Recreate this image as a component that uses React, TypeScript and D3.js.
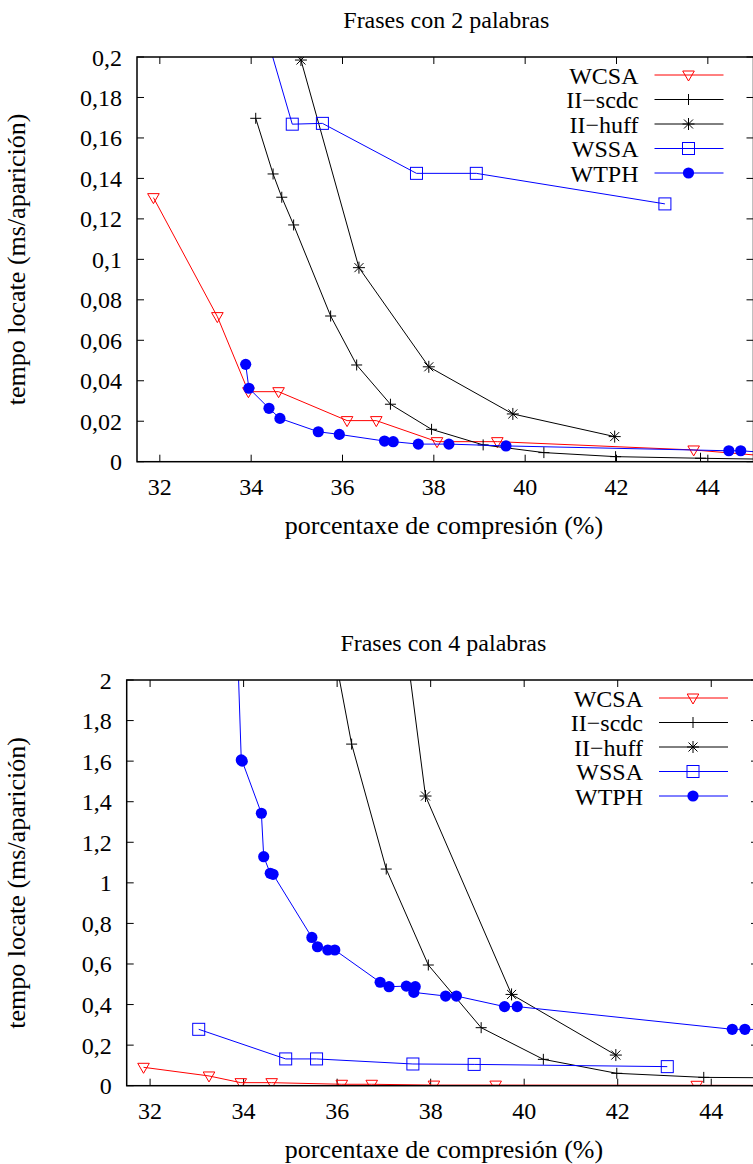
import React from "react";
import * as d3 from "d3";

// ---------- data ----------
const seriesNames = ["WCSA", "II\u2212scdc", "II\u2212huff", "WSSA", "WTPH"];
const seriesColors = ["#ff0000", "#000000", "#000000", "#0000ff", "#0000ff"];
const seriesMarkers = ["tri", "plus", "star", "square", "circle"];

const xTicks = [32, 34, 36, 38, 40, 42, 44];

// WCSA
const wcsaX = [31.86, 33.26, 33.94, 34.6, 36.1, 36.74, 38.07, 39.39, 43.69, 46];
const wcsaY2 = [0.1305, 0.0717, 0.0346, 0.0346, 0.0203, 0.0203, 0.0099, 0.0099, 0.0058, 0.0015];
const wcsaY4 = [0.0907, 0.048, 0.015, 0.015, 0.007, 0.007, 0.003, 0.003, 0.002, 0.001];

// II-scdc
const scdcX = [34.1, 34.48, 34.67, 34.93, 35.74, 36.31, 37.05, 37.95, 39.08, 40.41, 41.98, 43.84, 46];
const scdcY2 = [0.1697, 0.1422, 0.1307, 0.117, 0.072, 0.0478, 0.0284, 0.016, 0.0083, 0.0045, 0.0025, 0.0017, 0.001];
const scdcY4 = [6.0, 5.0, 4.5, 3.9, 2.38, 1.684, 1.068, 0.595, 0.286, 0.13, 0.061, 0.041, 0.038];

// II-huff
const huffX = [35.09, 36.36, 37.89, 39.73, 41.96];
const huffY2 = [0.1985, 0.0959, 0.0469, 0.0236, 0.0124];
const huffY4 = [8.0, 4.16, 1.428, 0.45, 0.151];

// WSSA
const wssaX = [33.04, 34.9, 35.56, 37.62, 38.93, 43.06];
const wssaY2 = [0.311, 0.1668, 0.1672, 0.1425, 0.1425, 0.1274];
const wssaY4 = [0.278, 0.132, 0.132, 0.107, 0.105, 0.094];

// WTPH
const wtphX2 = [33.88, 33.95, 34.39, 34.63, 35.47, 35.93, 36.92, 37.11, 37.66, 38.33, 39.58, 44.46, 44.72, 45.6];
const wtphY2 = [0.0481, 0.0363, 0.0264, 0.0214, 0.0148, 0.0135, 0.0102, 0.0099, 0.0087, 0.0087, 0.0078, 0.0054, 0.0054, 0.004];
const wtphX4 = [33.46, 33.95, 33.97, 34.38, 34.43, 34.57, 34.63, 35.46, 35.58, 35.8, 35.95, 36.92, 37.11, 37.48, 37.67, 37.64, 38.32, 38.55, 39.58, 39.85, 44.45, 44.72, 45.6];
const wtphY4 = [5.0, 1.606, 1.6, 1.343, 1.129, 1.047, 1.042, 0.731, 0.685, 0.669, 0.669, 0.51, 0.488, 0.491, 0.488, 0.46, 0.442, 0.442, 0.39, 0.39, 0.278, 0.278, 0.275];

const panel2 = {
  title: "Frases con 2 palabras",
  yMax: 0.2,
  yStep: 0.02,
  series: [
    [wcsaX, wcsaY2],
    [scdcX, scdcY2],
    [huffX, huffY2],
    [wssaX, wssaY2],
    [wtphX2, wtphY2],
  ],
};
const panel4 = {
  title: "Frases con 4 palabras",
  yMax: 2,
  yStep: 0.2,
  series: [
    [wcsaX, wcsaY4],
    [scdcX, scdcY4],
    [huffX, huffY4],
    [wssaX, wssaY4],
    [wtphX4, wtphY4],
  ],
};

const FONT = "'Liberation Serif', 'Times New Roman', serif";

function Marker({ type, x, y, color }: { type: string; x: number; y: number; color: string }) {
  const t = `translate(${x},${y})`;
  if (type === "tri")
    return <path transform={t} d="M-5.8,-4L5.8,-4L0,6Z" fill="none" stroke={color} strokeWidth={1} />;
  if (type === "plus")
    return <path transform={t} d="M-5.5,0H5.5M0,-5.5V5.5" stroke={color} strokeWidth={1} fill="none" />;
  if (type === "star")
    return (
      <path transform={t} d="M-6,0H6M0,-6V6M-4.5,-4.5L4.5,4.5M-4.5,4.5L4.5,-4.5" stroke={color} strokeWidth={1} fill="none" />
    );
  if (type === "square")
    return <rect transform={t} x={-6} y={-6} width={12} height={12} fill="none" stroke={color} strokeWidth={1} />;
  return <circle transform={t} r={5.6} fill={color} />;
}

function fmt(v: number) {
  return String(+v.toFixed(2)).replace(".", ",");
}

function Panel({
  cfg,
  left,
  right,
  top,
  bottom,
  id,
}: {
  cfg: any;
  left: number;
  right: number;
  top: number;
  bottom: number;
  id: string;
}) {
  const x = d3.scaleLinear().domain([31.5, 45]).range([left, right]);
  const y = d3.scaleLinear().domain([0, cfg.yMax]).range([bottom, top]);
  const yTicks = d3.range(0, cfg.yMax + cfg.yStep / 2, cfg.yStep);
  const line = d3
    .line<[number, number]>()
    .x((d) => x(d[0]))
    .y((d) => y(d[1]));
  const tl = 7;
  const legRight = right;
  return (
    <g>
      <defs>
        <clipPath id={id}>
          <rect x={left} y={top} width={right - left} height={bottom - top} />
        </clipPath>
      </defs>
      <text x={(left + right) / 2 + 1} y={top - 29} textAnchor="middle" fontFamily={FONT} fontSize={24}>
        {cfg.title}
      </text>
      {/* ticks */}
      {xTicks.map((t) => (
        <g key={"x" + t}>
          <line x1={x(t)} x2={x(t)} y1={bottom} y2={bottom - tl} stroke="#000" strokeWidth={1} />
          <line x1={x(t)} x2={x(t)} y1={top} y2={top + tl} stroke="#000" strokeWidth={1} />
          <text x={x(t)} y={bottom + 33.5} textAnchor="middle" fontFamily={FONT} fontSize={24}>
            {t}
          </text>
        </g>
      ))}
      {yTicks.map((t, i) => (
        <g key={"y" + i}>
          <line x1={left} x2={left + tl} y1={y(t)} y2={y(t)} stroke="#000" strokeWidth={1} />
          <line x1={right} x2={right - tl} y1={y(t)} y2={y(t)} stroke="#000" strokeWidth={1} />
          <text x={left - 15} y={y(t) + 8.5} textAnchor="end" fontFamily={FONT} fontSize={24}>
            {fmt(t)}
          </text>
        </g>
      ))}
      <text
        transform={`translate(25,${(top + bottom) / 2}) rotate(-90)`}
        textAnchor="middle"
        fontFamily={FONT}
        fontSize={26}
      >
        tempo locate (ms/aparición)
      </text>
      <text x={444} y={bottom + 72} textAnchor="middle" fontFamily={FONT} fontSize={26}>
        porcentaxe de compresión (%)
      </text>
      {/* series */}
      <g clipPath={`url(#${id})`}>
        {cfg.series.map((s: number[][], i: number) => {
          const pts: [number, number][] = s[0].map((xv: number, j: number) => [xv, s[1][j]]);
          return (
            <g key={i}>
              <path d={line(pts) || ""} fill="none" stroke={seriesColors[i]} strokeWidth={1} />
              {pts
                .filter((p) => p[0] >= 31.5 && p[0] <= 45 && p[1] >= 0 && p[1] <= cfg.yMax)
                .map((p, j) => (
                  <Marker key={j} type={seriesMarkers[i]} x={x(p[0])} y={y(p[1])} color={seriesColors[i]} />
                ))}
            </g>
          );
        })}
      </g>
      {/* legend */}
      {seriesNames.map((n, i) => {
        const ly = top + 18 + i * 24.5;
        return (
          <g key={"l" + i}>
            <text x={legRight - 115} y={ly + 8.5} textAnchor="end" fontFamily={FONT} fontSize={24}>
              {n}
            </text>
            <line x1={legRight - 99} x2={legRight - 30} y1={ly} y2={ly} stroke={seriesColors[i]} strokeWidth={1} />
            <Marker type={seriesMarkers[i]} x={legRight - 65} y={ly} color={seriesColors[i]} />
          </g>
        );
      })}
      {/* border */}
      <rect x={left} y={top} width={right - left} height={bottom - top} fill="none" stroke="#000" strokeWidth={1.5} />
    </g>
  );
}

export default function App() {
  return (
    <svg
      width={753}
      height={1164}
      style={{ position: "absolute", left: 0, top: 0, background: "#fff" }}
      xmlns="http://www.w3.org/2000/svg"
    >
      <rect width={753} height={1164} fill="#fff" />
      <Panel cfg={panel2} left={137} right={753.5} top={57} bottom={461.7} id="clipA" />
      <Panel cfg={panel4} left={126.7} right={758} top={680} bottom={1085.7} id="clipB" />
    </svg>
  );
}
